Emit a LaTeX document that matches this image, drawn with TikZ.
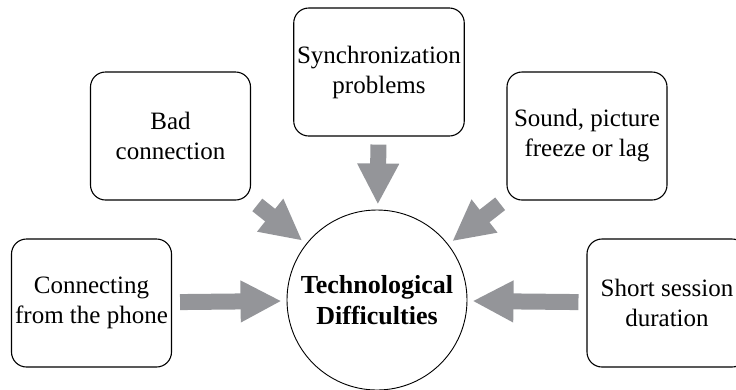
\documentclass[tikz,border=0pt]{standalone}
\usepackage{fontspec}
\setmainfont{Liberation Serif}
\usetikzlibrary{arrows.meta}
\definecolor{arrowgray}{RGB}{148,149,153}
\begin{document}
\begin{tikzpicture}[x=1pt, y=-1pt,
  issue/.style={draw, line width=1.1pt, rounded corners=15pt, minimum width=160pt,
    minimum height=128pt, align=center, font=\fontsize{25}{30}\selectfont},
  bigarrow/.style={arrowgray, line width=16pt, -{Triangle[length=41pt,width=39pt]},
    shorten <=8pt, shorten >=5pt}]
  \useasboundingbox (0,0) rectangle (736,389);
  \node[draw, circle, minimum size=180pt, line width=0.9pt, align=center,
    font=\bfseries\fontsize{26}{31}\selectfont] (tech) at (377,300) {Technological\\Difficulties};
  \node[issue] (bad) at (170.5,136) {Bad\\connection};
  \node[issue] (sync) at (379,72) {Synchronization\\problems};
  \node[issue] (sound) at (587,136) {Sound, picture\\freeze or lag};
  \node[issue] (phone) at (91.5,303) {Connecting\\from the phone};
  \node[issue] (short) at (667,303) {Short session\\duration};
  \draw[bigarrow] (bad) -- (tech);
  \draw[bigarrow] (sync) -- (tech);
  \draw[bigarrow] (sound) -- (tech);
  \draw[bigarrow] (phone) -- (tech);
  \draw[bigarrow] (short) -- (tech);
\end{tikzpicture}
\end{document}
